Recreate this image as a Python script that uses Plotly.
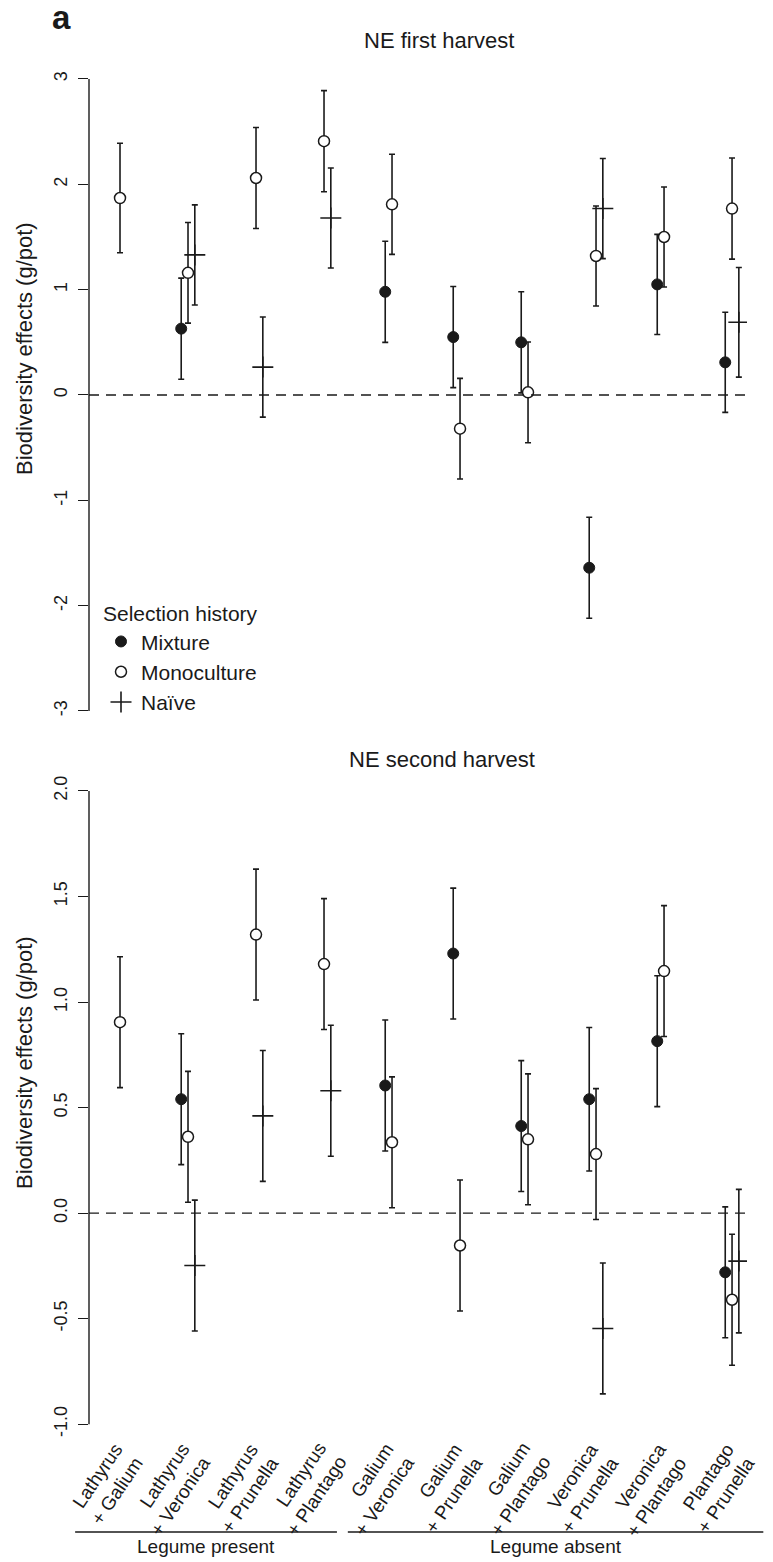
import plotly.graph_objects as go

# ---------------- data ----------------
categories = ["Lathyrus<br>+ Galium", "Lathyrus<br>+ Veronica", "Lathyrus<br>+ Prunella",
              "Lathyrus<br>+ Plantago", "Galium<br>+ Veronica", "Galium<br>+ Prunella",
              "Galium<br>+ Plantago", "Veronica<br>+ Prunella", "Veronica<br>+ Plantago",
              "Plantago<br>+ Prunella"]
series_names = ["Mixture", "Monoculture", "Naïve"]

# NE first harvest (mean, half-width of error bar)
first_mixture = [None, 0.63, None, None, 0.98, 0.55, 0.50, -1.64, 1.05, 0.31]
first_mixture_err = [None, 0.48, None, None, 0.48, 0.48, 0.48, 0.48, 0.475, 0.475]
first_mono = [1.87, 1.16, 2.06, 2.41, 1.81, -0.32, 0.025, 1.32, 1.50, 1.77]
first_mono_err = [0.52, 0.478, 0.48, 0.48, 0.475, 0.478, 0.478, 0.475, 0.475, 0.48]
first_naive = [None, 1.33, 0.265, 1.68, None, None, None, 1.77, None, 0.69]
first_naive_err = [None, 0.475, 0.475, 0.475, None, None, None, 0.475, None, 0.52]

# NE second harvest
second_mixture = [None, 0.54, None, None, 0.605, 1.23, 0.413, 0.54, 0.815, -0.28]
second_mixture_err = [None, 0.31, None, None, 0.31, 0.31, 0.31, 0.34, 0.31, 0.31]
second_mono = [0.905, 0.362, 1.32, 1.18, 0.336, -0.153, 0.35, 0.28, 1.147, -0.41]
second_mono_err = [0.31, 0.31, 0.31, 0.31, 0.31, 0.31, 0.31, 0.31, 0.31, 0.31]
second_naive = [None, -0.248, 0.461, 0.58, None, None, None, -0.546, None, -0.227]
second_naive_err = [None, 0.31, 0.31, 0.31, None, None, None, 0.31, None, 0.34]

top_ticks = [-3, -2, -1, 0, 1, 2, 3]
top_ticktext = ["-3", "-2", "-1", "0", "1", "2", "3"]
bottom_ticks = [-1.0, -0.5, 0.0, 0.5, 1.0, 1.5, 2.0]
bottom_ticktext = ["-1.0", "-0.5", "0.0", "0.5", "1.0", "1.5", "2.0"]

group_labels = ["Legume present", "Legume absent"]
group_spans = [(0.34, 4.19), (4.35, 10.46)]

# ---------------- layout geometry ----------------
W, H = 773, 1562
ML, MR, MT, MB = 89, 26, 50, 106
PH = H - MT - MB
PW = W - ML - MR


def py(pix):
    return (H - MB - pix) / PH


def px(pix):
    return (pix - ML) / PW


top_range = [-3.25, 3.25]
bot_range = [-1.05, 2.12]
TOP_PPU = 105.33   # pixels per unit, top panel (3 at y=79)
BOT_PPU = 211.1    # pixels per unit, bottom panel (2.0 at y=791)
top_dom = [py(79 + TOP_PPU * (3 - top_range[0])), py(79 - TOP_PPU * (top_range[1] - 3))]
bot_dom = [py(791 + BOT_PPU * (2 - bot_range[0])), py(791 - BOT_PPU * (bot_range[1] - 2))]
x_range = [0.544, 10.22]
X_PPU = PW / (x_range[1] - x_range[0])


def xpix(v):
    return ML + (v - x_range[0]) * X_PPU


INK = "#1a1a1a"
FONT = "Liberation Sans, Arial, Helvetica, sans-serif"

styles = {
    "Mixture": dict(symbol="circle", size=11, color=INK, line=dict(color=INK, width=1)),
    "Monoculture": dict(symbol="circle", size=11, color="white", line=dict(color=INK, width=1.5)),
    "Naïve": dict(symbol="cross-thin-open", size=15, color=INK, line=dict(color=INK, width=1.6)),
}
offsets = {"Mixture": -0.1, "Monoculture": 0.0, "Naïve": 0.1}

fig = go.Figure()

panels = [
    ("y", [(first_mixture, first_mixture_err), (first_mono, first_mono_err), (first_naive, first_naive_err)], True),
    ("y2", [(second_mixture, second_mixture_err), (second_mono, second_mono_err), (second_naive, second_naive_err)], False),
]

for yaxis, data, show in panels:
    for name, (vals, errs) in zip(series_names, data):
        xs, ys, es = [], [], []
        for i, (v, e) in enumerate(zip(vals, errs)):
            if v is None:
                continue
            xs.append(i + 1 + offsets[name])
            ys.append(v)
            es.append(e)
        fig.add_trace(go.Scatter(
            x=xs, y=ys, mode="markers", name=name, legendgroup=name, showlegend=show,
            xaxis="x" if yaxis == "y" else "x2", yaxis=yaxis,
            marker=styles[name],
            error_y=dict(type="data", array=es, symmetric=True, thickness=1.6, width=3, color=INK),
        ))

axis_common = dict(showgrid=False, zeroline=False, showline=False, ticks="outside", ticklen=10,
                   tickwidth=1.4, tickcolor=INK, tickangle=-90,
                   tickfont=dict(size=18, color=INK, family=FONT))

fig.update_layout(
    width=W, height=H, margin=dict(l=ML, r=MR, t=MT, b=MB),
    paper_bgcolor="white", plot_bgcolor="white",
    font=dict(family=FONT, color=INK),
    xaxis=dict(domain=[0, 1], range=x_range, anchor="y", showticklabels=False, showgrid=False,
               zeroline=False, showline=False, ticks=""),
    xaxis2=dict(domain=[0, 1], range=x_range, anchor="y2", showgrid=False, zeroline=False,
                showline=False, ticks="", showticklabels=False),
    yaxis=dict(domain=top_dom, range=top_range, anchor="x", tickvals=top_ticks,
               ticktext=top_ticktext, ticklabelstandoff=4, **axis_common),
    yaxis2=dict(domain=bot_dom, range=bot_range, anchor="x2", tickvals=bottom_ticks,
                ticktext=bottom_ticktext, ticklabelstandoff=4, **axis_common),
    legend=dict(x=px(101), y=py(594), xanchor="left", yanchor="top",
                title=dict(text="Selection history", font=dict(size=21, color=INK, family=FONT)),
                font=dict(size=21, color=INK, family=FONT), bgcolor="rgba(0,0,0,0)",
                itemwidth=30, tracegroupgap=0),
    showlegend=True,
)

shapes = []
for yref, lo, hi in [("y", top_ticks[0], top_ticks[-1]), ("y2", bottom_ticks[0], bottom_ticks[-1])]:
    xdom = "x domain" if yref == "y" else "x2 domain"
    shapes.append(dict(type="line", xref=xdom, yref=yref, x0=0, x1=0, y0=lo, y1=hi,
                       line=dict(color=INK, width=1.4)))
    shapes.append(dict(type="line", xref=xdom, yref=yref, x0=0, x1=1, y0=0, y1=0,
                       line=dict(color=INK, width=1.3, dash="10px,7px")))
for (a, b_) in group_spans:
    shapes.append(dict(type="line", xref="paper", yref="paper", x0=px(xpix(a)), x1=px(xpix(b_)),
                       y0=py(1532), y1=py(1532), line=dict(color=INK, width=1.6)))
fig.update_layout(shapes=shapes)

ann = []
ann.append(dict(text="<b>a</b>", x=px(50), y=py(17), xref="paper", yref="paper",
                xanchor="left", yanchor="middle", showarrow=False, font=dict(size=33, color=INK)))
ann.append(dict(text="NE first harvest", x=px(439), y=py(41), xref="paper", yref="paper",
                xanchor="center", yanchor="middle", showarrow=False, font=dict(size=22, color=INK)))
ann.append(dict(text="NE second harvest", x=px(442), y=py(760), xref="paper", yref="paper",
                xanchor="center", yanchor="middle", showarrow=False, font=dict(size=22, color=INK)))
for yc in (349, 1063):
    ann.append(dict(text="Biodiversity effects (g/pot)", x=px(24), y=py(yc), xref="paper", yref="paper",
                    xanchor="center", yanchor="middle", textangle=-90, showarrow=False,
                    font=dict(size=22, color=INK)))
for lab, (a, b_) in zip(group_labels, group_spans):
    ann.append(dict(text=lab, x=px(xpix((a + b_) / 2)), y=py(1546), xref="paper", yref="paper",
                    xanchor="center", yanchor="middle", showarrow=False, font=dict(size=19, color=INK)))
# rotated category labels under the lower panel
for i, cat in enumerate(categories):
    ann.append(dict(text=cat, x=px(xpix(i + 1) + 30), y=py(1436), xref="paper", yref="paper",
                    xanchor="right", yanchor="top", align="right", textangle=-56,
                    showarrow=False, font=dict(size=19, color=INK)))
fig.update_layout(annotations=ann)

fig.write_html("out.html")
